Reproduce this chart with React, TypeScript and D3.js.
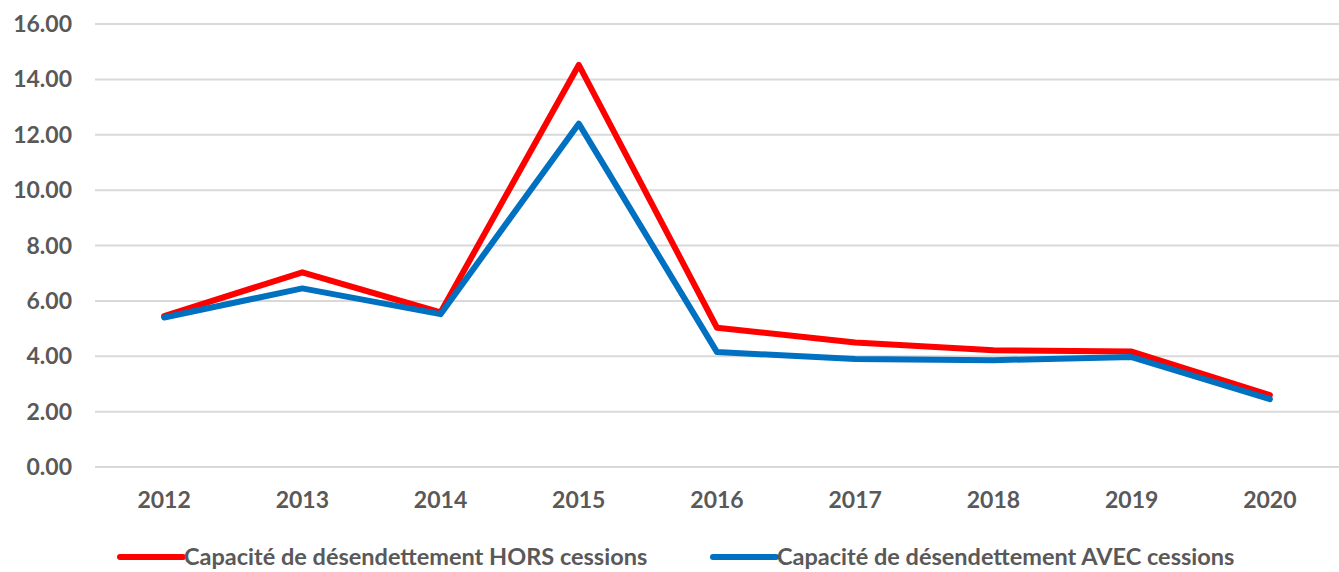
import { useEffect, useRef } from "react";
import * as d3 from "d3";

const years = ["2012", "2013", "2014", "2015", "2016", "2017", "2018", "2019", "2020"];
const horsCessions = [5.45, 7.03, 5.58, 14.52, 5.03, 4.5, 4.22, 4.17, 2.6];
const avecCessions = [5.4, 6.45, 5.52, 12.4, 4.15, 3.9, 3.86, 3.97, 2.45];
const yTicks = [0, 2, 4, 6, 8, 10, 12, 14, 16];

const series = [
  { label: "Capacité de désendettement HORS cessions", color: "#ff0000", values: horsCessions },
  { label: "Capacité de désendettement AVEC cessions", color: "#0070c0", values: avecCessions },
];

const W = 1339;
const H = 572;
const FONT = "Lato, 'Open Sans', sans-serif";
const TEXT = "#595959";

export default function App() {
  const svgRef = useRef<SVGSVGElement>(null);

  useEffect(() => {
    const svg = d3.select(svgRef.current);
    svg.selectAll("*").remove();

    const m = { top: 24, right: 0, bottom: 105, left: 95 };

    const x = d3.scaleBand().domain(years).range([m.left, W - m.right]);
    const y = d3.scaleLinear().domain([0, 16]).range([H - m.bottom, m.top]);

    // grid
    svg
      .append("g")
      .selectAll("line")
      .data(yTicks)
      .join("line")
      .attr("x1", m.left)
      .attr("x2", W - m.right)
      .attr("y1", (d) => y(d))
      .attr("y2", (d) => y(d))
      .attr("stroke", "#d9d9d9")
      .attr("stroke-width", 2);

    // y labels
    svg
      .append("g")
      .selectAll("text")
      .data(yTicks)
      .join("text")
      .attr("x", 72)
      .attr("y", (d) => y(d))
      .attr("dy", "0.35em")
      .attr("text-anchor", "end")
      .attr("fill", TEXT)
      .attr("font-family", FONT)
      .attr("font-weight", "bold")
      .attr("font-size", 23)
      .text((d) => d.toFixed(2));

    // x labels
    svg
      .append("g")
      .selectAll("text")
      .data(years)
      .join("text")
      .attr("x", (d) => x(d)! + x.bandwidth() / 2)
      .attr("y", 500)
      .attr("dy", "0.35em")
      .attr("text-anchor", "middle")
      .attr("fill", TEXT)
      .attr("font-family", FONT)
      .attr("font-weight", "bold")
      .attr("font-size", 23)
      .text((d) => d);

    // lines
    const line = d3
      .line<number>()
      .x((_, i) => x(years[i])! + x.bandwidth() / 2)
      .y((d) => y(d));

    svg
      .append("g")
      .selectAll("path")
      .data(series)
      .join("path")
      .attr("fill", "none")
      .attr("stroke", (d) => d.color)
      .attr("stroke-width", 6)
      .attr("stroke-linejoin", "round")
      .attr("stroke-linecap", "round")
      .attr("d", (d) => line(d.values));

    // legend
    const legendX = [120, 713];
    const lg = svg
      .append("g")
      .selectAll("g")
      .data(series)
      .join("g")
      .attr("transform", (_, i) => `translate(${legendX[i]},557)`);
    lg.append("line")
      .attr("x1", 0)
      .attr("x2", 63)
      .attr("stroke", (d) => d.color)
      .attr("stroke-width", 6)
      .attr("stroke-linecap", "round");
    lg.append("text")
      .attr("x", 64)
      .attr("dy", "0.35em")
      .attr("fill", TEXT)
      .attr("font-family", FONT)
      .attr("font-weight", "bold")
      .attr("font-size", 23.5)
      .text((d) => d.label);
  }, []);

  return (
    <svg
      ref={svgRef}
      width={W}
      height={H}
      style={{ position: "absolute", left: 0, top: 0, background: "#fff", display: "block" }}
    />
  );
}
